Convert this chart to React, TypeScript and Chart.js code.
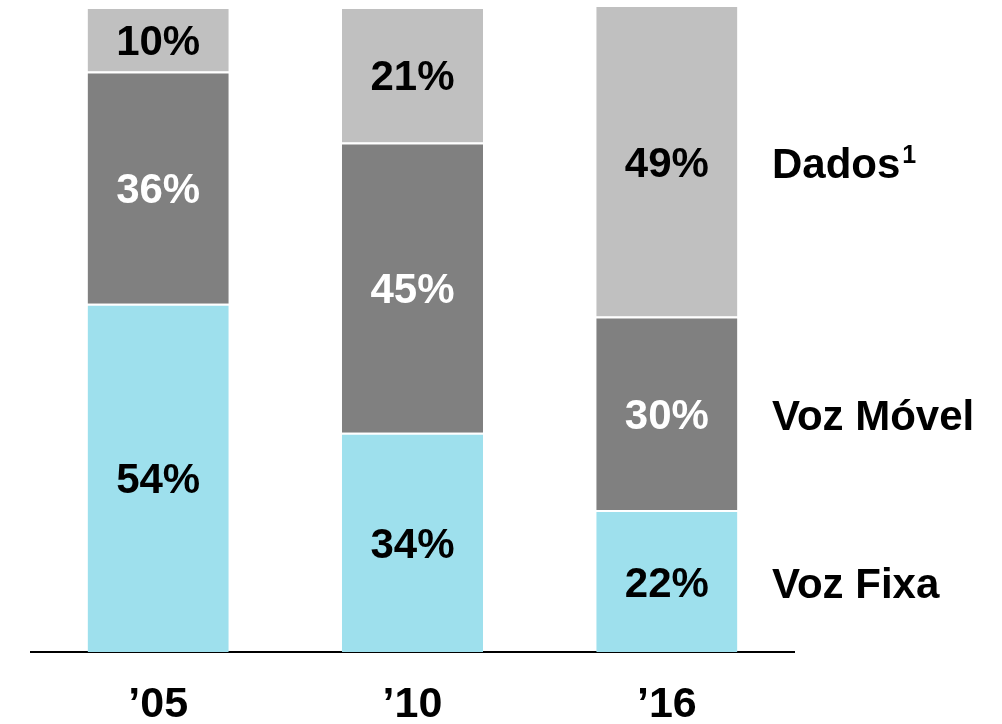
import React, { useEffect, useRef } from "react";
import { Chart, registerables } from "chart.js";

Chart.register(...registerables);

const categories = ["\u201905", "\u201910", "\u201916"];
const vozFixa = [54, 34, 22];
const vozMovel = [36, 45, 30];
const dados = [10, 21, 49];
const seriesNames = ["Voz Fixa", "Voz M\u00f3vel", "Dados"];

const FONT = "'Liberation Sans', Arial, sans-serif";

const labelPlugin = {
  id: "segLabels",
  afterDatasetsDraw(chart: any) {
    const ctx = chart.ctx;
    ctx.save();
    ctx.font = `bold 42px ${FONT}`;
    ctx.textAlign = "center";
    ctx.textBaseline = "middle";
    const colors = ["#000000", "#ffffff", "#000000"];
    chart.data.datasets.forEach((ds: any, di: number) => {
      const meta = chart.getDatasetMeta(di);
      meta.data.forEach((el: any, i: number) => {
        const top = Math.max(el.y, chart.chartArea.top);
        const cy = (top + el.base) / 2;
        ctx.fillStyle = colors[di];
        ctx.fillText(`${ds.data[i]}%`, el.x, cy + 4);
      });
    });
    // category labels under the axis
    const xs = chart.scales.x;
    ctx.font = `bold 43px ${FONT}`;
    ctx.fillStyle = "#000000";
    chart.data.labels.forEach((lab: string, i: number) => {
      ctx.fillText(lab, xs.getPixelForTick(i), 705);
    });
    // right side series names aligned with last bar
    const lastIdx = categories.length - 1;
    const x0 = 772;
    ctx.textAlign = "left";
    seriesNames.forEach((name, di) => {
      const el = chart.getDatasetMeta(di).data[lastIdx];
      const top = Math.max(el.y, chart.chartArea.top);
      const cy = (top + el.base) / 2;
      ctx.font = `bold 42px ${FONT}`;
      ctx.fillText(name, x0, cy + 5);
      if (di === 2) {
        const w = ctx.measureText(name).width;
        ctx.font = `bold 25px ${FONT}`;
        ctx.fillText("1", x0 + w + 2, cy - 6);
      }
    });
    ctx.restore();
  },
};

export default function App() {
  const ref = useRef<HTMLCanvasElement>(null);
  useEffect(() => {
    if (!ref.current) return;
    const chart = new Chart(ref.current, {
      type: "bar",
      data: {
        labels: categories,
        datasets: [
          { label: seriesNames[0], data: vozFixa, backgroundColor: "#9EE0ED" },
          { label: seriesNames[1], data: vozMovel, backgroundColor: "#808080" },
          { label: seriesNames[2], data: dados, backgroundColor: "#C0C0C0" },
        ].map((d) => ({
          ...d,
          borderColor: "#ffffff",
          borderWidth: { top: 2, left: 0, right: 0, bottom: 0 },
          borderSkipped: false,
          categoryPercentage: 1,
          barPercentage: 0.555,
        })),
      },
      options: {
        animation: false,
        responsive: false,
        maintainAspectRatio: false,
        layout: { padding: { left: 31, right: 208, top: 7, bottom: 72 } },
        plugins: { legend: { display: false }, tooltip: { enabled: false } },
        scales: {
          x: {
            stacked: true,
            grid: { display: false, drawTicks: false },
            border: { display: true, color: "#000000", width: 2 },
            ticks: { display: false },
          },
          y: {
            stacked: true,
            display: false,
            min: 0,
            max: 100,
          },
        },
      },
      plugins: [labelPlugin],
    });
    return () => chart.destroy();
  }, []);
  return (
    <div style={{ position: "absolute", left: 0, top: 0, width: 1002, height: 724, background: "#fff" }}>
      <canvas ref={ref} width={1002} height={724} style={{ width: 1002, height: 724 }} />
    </div>
  );
}
